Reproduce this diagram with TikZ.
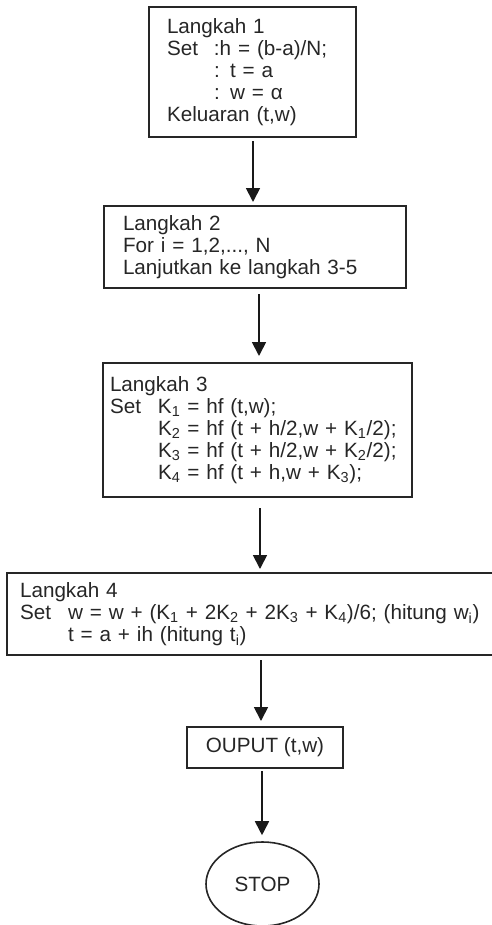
\documentclass[tikz,border=0pt]{standalone}
\usepackage{fontspec}
\setmainfont{Liberation Sans}
\usetikzlibrary{arrows.meta,shapes.geometric}
\begin{document}
\begin{tikzpicture}[x=0.75pt,y=-0.75pt,
  txt/.style={font=\fontsize{15.5}{16.5}\selectfont, text=black!85},
  box/.style={txt, draw=black!85, line width=1.5pt, rectangle, align=left, inner ysep=0pt},
  arr/.style={-{Triangle[length=10.5pt,width=10.5pt]}, line width=1.3pt, draw=black!90},
]
\useasboundingbox (0,0) rectangle (492,925);

\node[box, text width=128.25pt, inner xsep=13.5pt, minimum height=97.5pt] (b1) at (252.5,72)
  {Langkah 1\\
   \makebox[35.25pt][l]{Set}:h = (b-a)/N;\\
   \hspace*{35.25pt}: t = a\\
   \hspace*{35.25pt}: w = α\\
   Keluaran (t,w)};

\node[box, text width=198pt, inner xsep=14.25pt, minimum height=61.5pt] (b2) at (255,247)
  {Langkah 2\\
   For i = 1,2,..., N\\
   Lanjutkan ke langkah 3-5};

\node[box, text width=221.25pt, inner xsep=5.25pt, minimum height=100.5pt] (b3) at (257.5,430)
  {Langkah 3\\
   \makebox[36pt][l]{Set}K\textsubscript{1} = hf (t,w);\\
   \hspace*{36pt}K\textsubscript{2} = hf (t + h/2,w + K\textsubscript{1}/2);\\
   \hspace*{36pt}K\textsubscript{3} = hf (t + h/2,w + K\textsubscript{2}/2);\\
   \hspace*{36pt}K\textsubscript{4} = hf (t + h,w + K\textsubscript{3});};

\node[box, text width=355pt, inner xsep=9.75pt, minimum height=61.5pt] (b4) at (256.7,614)
  {Langkah 4\\
   \mbox{\makebox[36pt][l]{Set}w = w + (K\textsubscript{1} + 2K\textsubscript{2} + 2K\textsubscript{3} + K\textsubscript{4})/6; (hitung w\textsubscript{i})}\\
   \hspace*{36pt}t = a + ih (hitung t\textsubscript{i})};

\node[txt, draw=black!85, line width=1.5pt, rectangle, minimum width=117pt, minimum height=30.75pt, inner sep=0pt] (out) at (265,747.5) {OUPUT (t,w)};

\node[txt, draw=black!85, line width=1.2pt, ellipse, minimum width=84.75pt, minimum height=63pt, inner sep=0pt] (stop) at (262.5,884) {STOP};

\draw[arr, shorten <=2.25pt, shorten >=2.25pt] (b1.south -| 253,0) -- (b2.north -| 253,0);
\draw[arr, shorten <=3.75pt, shorten >=4.5pt] (b2.south -| 259,0) -- (b3.north -| 259,0);
\draw[arr, shorten <=7.5pt, shorten >=2.25pt] (b3.south -| 260,0) -- (b4.north -| 260,0);
\draw[arr, shorten <=3pt, shorten >=3.75pt] (b4.south -| 261,0) -- (out.north -| 261,0);
\draw[arr, shorten <=1.5pt, shorten >=4.5pt] (out.south -| 262,0) -- (stop.north -| 262,0);
\end{tikzpicture}
\end{document}
